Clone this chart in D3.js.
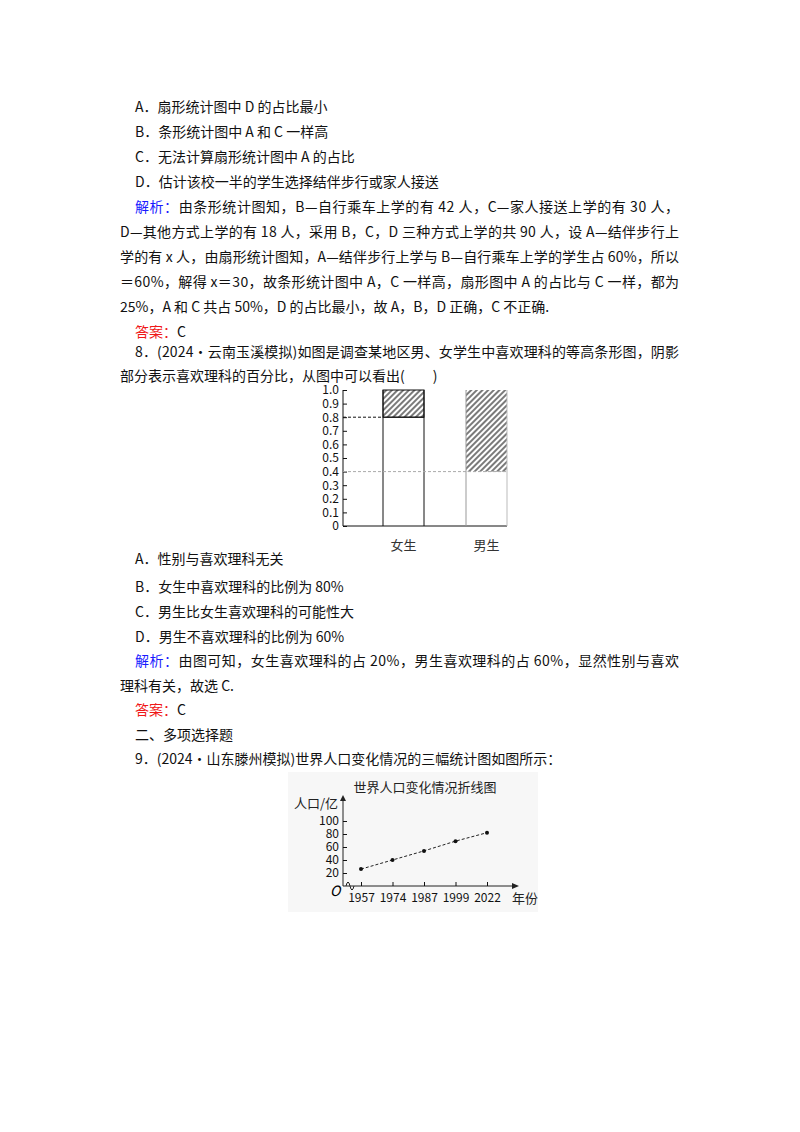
<!DOCTYPE html><html><head><meta charset="utf-8">
<script src="https://cdn.jsdelivr.net/npm/d3@7"></script>
<style>body{margin:0;background:#fff}text{font-family:"Noto Sans CJK SC","Liberation Serif",serif}</style></head><body>
<svg id="s" width="800" height="1132"></svg>
<script>
// ---- data ----
const barCats=["女生","男生"];
const barLike=[0.2,0.6];      // shaded fraction (喜欢理科)
const barTicks=[0,0.1,0.2,0.3,0.4,0.5,0.6,0.7,0.8,0.9,1.0];
const years=["1957","1974","1987","1999","2022"];
const pop=[26,40,54,69,82];
const popTicks=[20,40,60,80,100];
// text lines: [x, y, text, justify]
const lines=[
 [135,112,"A．扇形统计图中 D 的占比最小",0],
 [135,137,"B．条形统计图中 A 和 C 一样高",0],
 [135,162,"C．无法计算扇形统计图中 A 的占比",0],
 [135,187,"D．估计该校一半的学生选择结伴步行或家人接送",0],
 [135,212,"@解析：|由条形统计图知，B—自行乘车上学的有 42 人，C—家人接送上学的有 30 人，",1],
 [120,237,"D—其他方式上学的有 18 人，采用 B，C，D 三种方式上学的共 90 人，设 A—结伴步行上",1],
 [120,262,"学的有 x 人，由扇形统计图知，A—结伴步行上学与 B—自行乘车上学的学生占 60%，所以",1],
 [120,287,"＝60%，解得 x＝30，故条形统计图中 A，C 一样高，扇形图中 A 的占比与 C 一样，都为",1],
 [120,312,"25%，A 和 C 共占 50%，D 的占比最小，故 A，B，D 正确，C 不正确.",0],
 [135,337,"#答案：|C",0],
 [135,357,"8．(2024·云南玉溪模拟)如图是调查某地区男、女学生中喜欢理科的等高条形图，阴影",1],
 [120,381,"部分表示喜欢理科的百分比，从图中可以看出(　　)",0],
 [135,564,"A．性别与喜欢理科无关",0],
 [135,592,"B．女生中喜欢理科的比例为 80%",0],
 [135,617,"C．男生比女生喜欢理科的可能性大",0],
 [135,642,"D．男生不喜欢理科的比例为 60%",0],
 [135,666,"@解析：|由图可知，女生喜欢理科的占 20%，男生喜欢理科的占 60%，显然性别与喜欢",1],
 [120,691,"理科有关，故选 C.",0],
 [135,715,"#答案：|C",0],
 [135,740,"二、多项选择题",0],
 [135,764,"9．(2024·山东滕州模拟)世界人口变化情况的三幅统计图如图所示：",0]
];
const svg=d3.select("#s");
lines.forEach(([x,y,t,j])=>{
  const tx=svg.append("text").attr("x",x).attr("y",y).attr("font-size",14).attr("fill","#111");
  if(j) tx.attr("textLength",679-x).attr("lengthAdjust","spacing");
  t.split("|").forEach(p=>{
    let c="#111";
    if(p[0]=="@"){c="#1a1aff";p=p.slice(1);} else if(p[0]=="#"){c="#f01818";p=p.slice(1);}
    tx.append("tspan").attr("fill",c).text(p);
  });
});
// ---- bar chart ----
const defs=svg.append("defs");
const pat=defs.append("pattern").attr("id","h").attr("patternUnits","userSpaceOnUse").attr("width",4).attr("height",4).attr("patternTransform","rotate(45)");
pat.append("rect").attr("width",4).attr("height",4).attr("fill","#fff");
pat.append("line").attr("x1",1).attr("y1",0).attr("x2",1).attr("y2",4).attr("stroke","#222").attr("stroke-width",1.2);
const y=d3.scaleLinear().domain([0,1]).range([526,390]);
const bw=41, bx={"女生":383,"男生":466};
const g=svg.append("g");
g.append("g").attr("transform","translate(343,0)").call(d3.axisLeft(y).tickValues(barTicks).tickSize(-4).tickFormat(d=>d==0?"0":d3.format(".1f")(d)))
 .call(a=>{a.select(".domain").remove();a.selectAll("text").attr("x",-4).attr("font-size",12).attr("font-family","Liberation Serif").attr("fill","#111");a.selectAll("line").attr("stroke","#111");});
g.append("line").attr("x1",343).attr("x2",343).attr("y1",390).attr("y2",526).attr("stroke","#111");
g.append("line").attr("x1",343).attr("x2",507).attr("y1",526).attr("y2",526).attr("stroke","#111");
barCats.forEach((c,i)=>{
  const X=bx[c];
  g.append("rect").attr("x",X).attr("width",bw).attr("y",y(1)).attr("height",y(1-barLike[i])-y(1)).attr("fill","url(#h)").attr("stroke","#111").attr("stroke-width",i?0:1);
  g.append("line").attr("x1",X).attr("x2",X).attr("y1",y(1)).attr("y2",y(0)).attr("stroke",i?"#999":"#111");
  g.append("line").attr("x1",X+bw).attr("x2",X+bw).attr("y1",y(1)).attr("y2",y(0)).attr("stroke",i?"#bbb":"#111");
  if(!i) g.append("line").attr("x1",X).attr("x2",X+bw).attr("y1",y(1-barLike[i])).attr("y2",y(1-barLike[i])).attr("stroke","#111");
  g.append("text").attr("x",X+bw/2).attr("y",550).attr("text-anchor","middle").attr("font-size",13).attr("fill","#333").text(c);
});
g.append("line").attr("x1",343).attr("x2",bx["女生"]).attr("y1",y(0.8)).attr("y2",y(0.8)).attr("stroke","#111").attr("stroke-dasharray","3,2");
g.append("line").attr("x1",343).attr("x2",bx["男生"]+bw).attr("y1",y(0.4)).attr("y2",y(0.4)).attr("stroke","#aaa").attr("stroke-dasharray","3,2");
// ---- line chart ----
const ly=d3.scaleLinear().domain([0,100]).range([886,821]);
const lx=d3.scalePoint().domain(years).range([361,487]);
const h=svg.append("g");
h.append("rect").attr("x",288).attr("y",772).attr("width",250).attr("height",140).attr("fill","#f7f7f7");
h.append("text").attr("x",425).attr("y",792).attr("text-anchor","middle").attr("font-size",13).attr("fill","#222").text("世界人口变化情况折线图");
h.append("text").attr("x",294).attr("y",808).attr("font-size",13).attr("fill","#222").text("人口/亿");
h.append("line").attr("x1",343).attr("x2",343).attr("y1",886).attr("y2",797).attr("stroke","#222");
h.append("path").attr("d","M340,801L343,795L346,801Z").attr("fill","#222");
h.append("line").attr("x1",343).attr("x2",516).attr("y1",886).attr("y2",886).attr("stroke","#222");
h.append("path").attr("d","M512,883L519,886L512,889Z").attr("fill","#222");
h.append("path").attr("d","M346,886q2,-8 4,0q2,8 4,0").attr("fill","none").attr("stroke","#222");
h.append("g").attr("transform","translate(343,0)").call(d3.axisLeft(ly).tickValues(popTicks).tickSize(-4))
 .call(a=>{a.select(".domain").remove();a.selectAll("text").attr("x",-4).attr("font-size",12).attr("font-family","Liberation Serif").attr("fill","#111");a.selectAll("line").attr("stroke","#111");});
h.append("g").attr("transform","translate(0,886)").call(d3.axisBottom(lx).tickSize(4))
 .call(a=>{a.select(".domain").remove();a.selectAll("text").attr("y",7).attr("font-size",12).attr("font-family","Liberation Serif").attr("fill","#111");a.selectAll("line").attr("stroke","#111").attr("y1",-4).attr("y2",0);});
h.append("text").attr("x",330).attr("y",896).attr("font-size",14).attr("font-style","italic").attr("font-family","Liberation Serif").text("O");
h.append("text").attr("x",512).attr("y",903).attr("font-size",13).attr("fill","#222").text("年份");
h.append("path").datum(pop).attr("d",d3.line().x((d,i)=>lx(years[i])).y(d=>ly(d))).attr("fill","none").attr("stroke","#222").attr("stroke-dasharray","3,2");
h.selectAll("circle").data(pop).join("circle").attr("cx",(d,i)=>lx(years[i])).attr("cy",d=>ly(d)).attr("r",2).attr("fill","#111");
</script></body></html>
